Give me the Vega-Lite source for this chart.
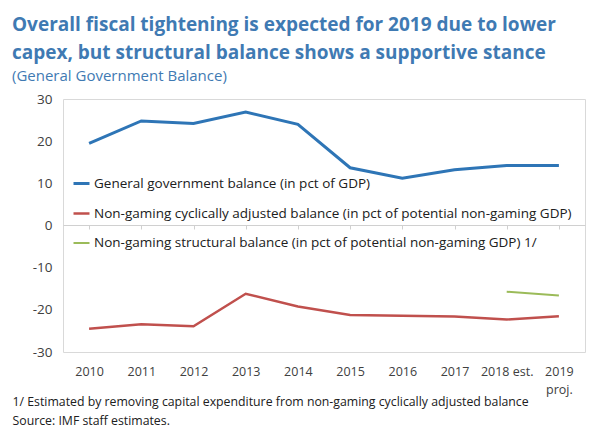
{
  "$schema": "https://vega.github.io/schema/vega-lite/v6.json",
  "width": 522,
  "height": 253,
  "autosize": {"type": "none"},
  "padding": {"left": 63, "top": 99, "right": 16, "bottom": 81},
  "background": "white",
  "config": {
    "font": "Open Sans",
    "view": {"stroke": "#d9d9d9", "strokeWidth": 1}
  },
  "title": {
    "text": ["Overall fiscal tightening is expected for 2019 due to lower", "capex, but structural balance shows a supportive stance"],
    "subtitle": "(General Government Balance)",
    "anchor": "start",
    "frame": "group",
    "dx": -51,
    "offset": 8,
    "font": "Open Sans",
    "fontSize": 19,
    "fontWeight": "bold",
    "color": "#3f7ab3",
    "lineHeight": 28,
    "subtitleFont": "Open Sans",
    "subtitleFontSize": 15,
    "subtitleColor": "#3f7ab3",
    "subtitlePadding": 6
  },
  "datasets": {
    "series": [
      {"year": "2010", "series": "General government balance (in pct of GDP)", "value": 19.5},
      {"year": "2011", "series": "General government balance (in pct of GDP)", "value": 24.8},
      {"year": "2012", "series": "General government balance (in pct of GDP)", "value": 24.2},
      {"year": "2013", "series": "General government balance (in pct of GDP)", "value": 26.9},
      {"year": "2014", "series": "General government balance (in pct of GDP)", "value": 24.0},
      {"year": "2015", "series": "General government balance (in pct of GDP)", "value": 13.7},
      {"year": "2016", "series": "General government balance (in pct of GDP)", "value": 11.2},
      {"year": "2017", "series": "General government balance (in pct of GDP)", "value": 13.2},
      {"year": "2018 est.", "series": "General government balance (in pct of GDP)", "value": 14.2},
      {"year": "2019 proj.", "series": "General government balance (in pct of GDP)", "value": 14.2},
      {"year": "2010", "series": "Non-gaming cyclically adjusted balance (in pct of potential non-gaming GDP)", "value": -24.5},
      {"year": "2011", "series": "Non-gaming cyclically adjusted balance (in pct of potential non-gaming GDP)", "value": -23.4},
      {"year": "2012", "series": "Non-gaming cyclically adjusted balance (in pct of potential non-gaming GDP)", "value": -23.9},
      {"year": "2013", "series": "Non-gaming cyclically adjusted balance (in pct of potential non-gaming GDP)", "value": -16.2},
      {"year": "2014", "series": "Non-gaming cyclically adjusted balance (in pct of potential non-gaming GDP)", "value": -19.2},
      {"year": "2015", "series": "Non-gaming cyclically adjusted balance (in pct of potential non-gaming GDP)", "value": -21.2},
      {"year": "2016", "series": "Non-gaming cyclically adjusted balance (in pct of potential non-gaming GDP)", "value": -21.4},
      {"year": "2017", "series": "Non-gaming cyclically adjusted balance (in pct of potential non-gaming GDP)", "value": -21.6},
      {"year": "2018 est.", "series": "Non-gaming cyclically adjusted balance (in pct of potential non-gaming GDP)", "value": -22.3},
      {"year": "2019 proj.", "series": "Non-gaming cyclically adjusted balance (in pct of potential non-gaming GDP)", "value": -21.5},
      {"year": "2018 est.", "series": "Non-gaming structural balance (in pct of potential non-gaming GDP) 1/", "value": -15.7},
      {"year": "2019 proj.", "series": "Non-gaming structural balance (in pct of potential non-gaming GDP) 1/", "value": -16.6}
    ]
  },
  "data": {"name": "series"},
  "layer": [
    {
      "mark": {"type": "line", "strokeWidth": 0},
      "encoding": {
        "x": {
          "field": "year", "type": "ordinal",
          "sort": null,
          "scale": {"paddingInner": 0, "paddingOuter": 0.5},
          "axis": {
            "orient": "bottom",
            "offset": -127,
            "labels": false,
            "title": null,
            "domain": true,
            "domainColor": "#d0d0d0",
            "ticks": true,
            "tickColor": "#d0d0d0",
            "tickSize": 4,
            "bandPosition": 0
          }
        },
        "y": {"field": "value", "type": "quantitative"}
      }
    },
    {
      "mark": {"type": "line"},
      "encoding": {
        "x": {
          "field": "year", "type": "ordinal",
          "sort": null,
          "axis": {
            "orient": "bottom",
            "labelAngle": 0,
            "labelFontSize": 12.5,
            "labelColor": "#404040",
            "labelPadding": 13,
            "labelLineHeight": 18,
            "labelBaseline": "top",
            "labelExpr": "datum.label == '2019 proj.' ? ['2019', 'proj.'] : datum.label",
            "domain": false,
            "ticks": false,
            "title": ["1/ Estimated by removing capital expenditure from non-gaming cyclically adjusted balance", "Source: IMF staff estimates."],
            "titleAnchor": "start",
            "titleAlign": "left",
            "titleBaseline": "top",
            "titleX": -51,
            "titleY": 43,
            "titleFontSize": 12.3,
            "titleFontWeight": "normal",
            "titleColor": "#202020",
            "titleLineHeight": 19
          }
        },
        "y": {
          "field": "value", "type": "quantitative",
          "scale": {"domain": [-30, 30], "nice": false},
          "axis": {
            "values": [-30, -20, -10, 0, 10, 20, 30],
            "labelExpr": "replace(datum.label, '\u2212', '-')",
            "grid": false,
            "domain": false,
            "ticks": false,
            "labelFontSize": 13.5,
            "labelColor": "#404040",
            "labelPadding": 11,
            "title": null
          }
        },
        "color": {
          "field": "series", "type": "nominal",
          "scale": {
            "domain": ["General government balance (in pct of GDP)", "Non-gaming cyclically adjusted balance (in pct of potential non-gaming GDP)", "Non-gaming structural balance (in pct of potential non-gaming GDP) 1/"],
            "range": ["#2e75b6", "#c0504d", "#9bbb59"]
          },
          "legend": {
            "orient": "none",
            "legendX": 9,
            "legendY": 75,
            "title": null,
            "symbolType": "stroke",
            "symbolSize": 256,
            "symbolStrokeWidth": 2.5,
            "labelFontSize": 13.5,
            "labelColor": "#202020",
            "labelLimit": 600,
            "labelOffset": 3,
            "rowPadding": 14
          }
        },
        "strokeWidth": {
          "field": "series", "type": "nominal",
          "scale": {
            "domain": ["General government balance (in pct of GDP)", "Non-gaming cyclically adjusted balance (in pct of potential non-gaming GDP)", "Non-gaming structural balance (in pct of potential non-gaming GDP) 1/"],
            "range": [3, 2, 2]
          },
          "legend": null
        }
      }
    }
  ],
  "resolve": {"axis": {"x": "independent"}}
}
